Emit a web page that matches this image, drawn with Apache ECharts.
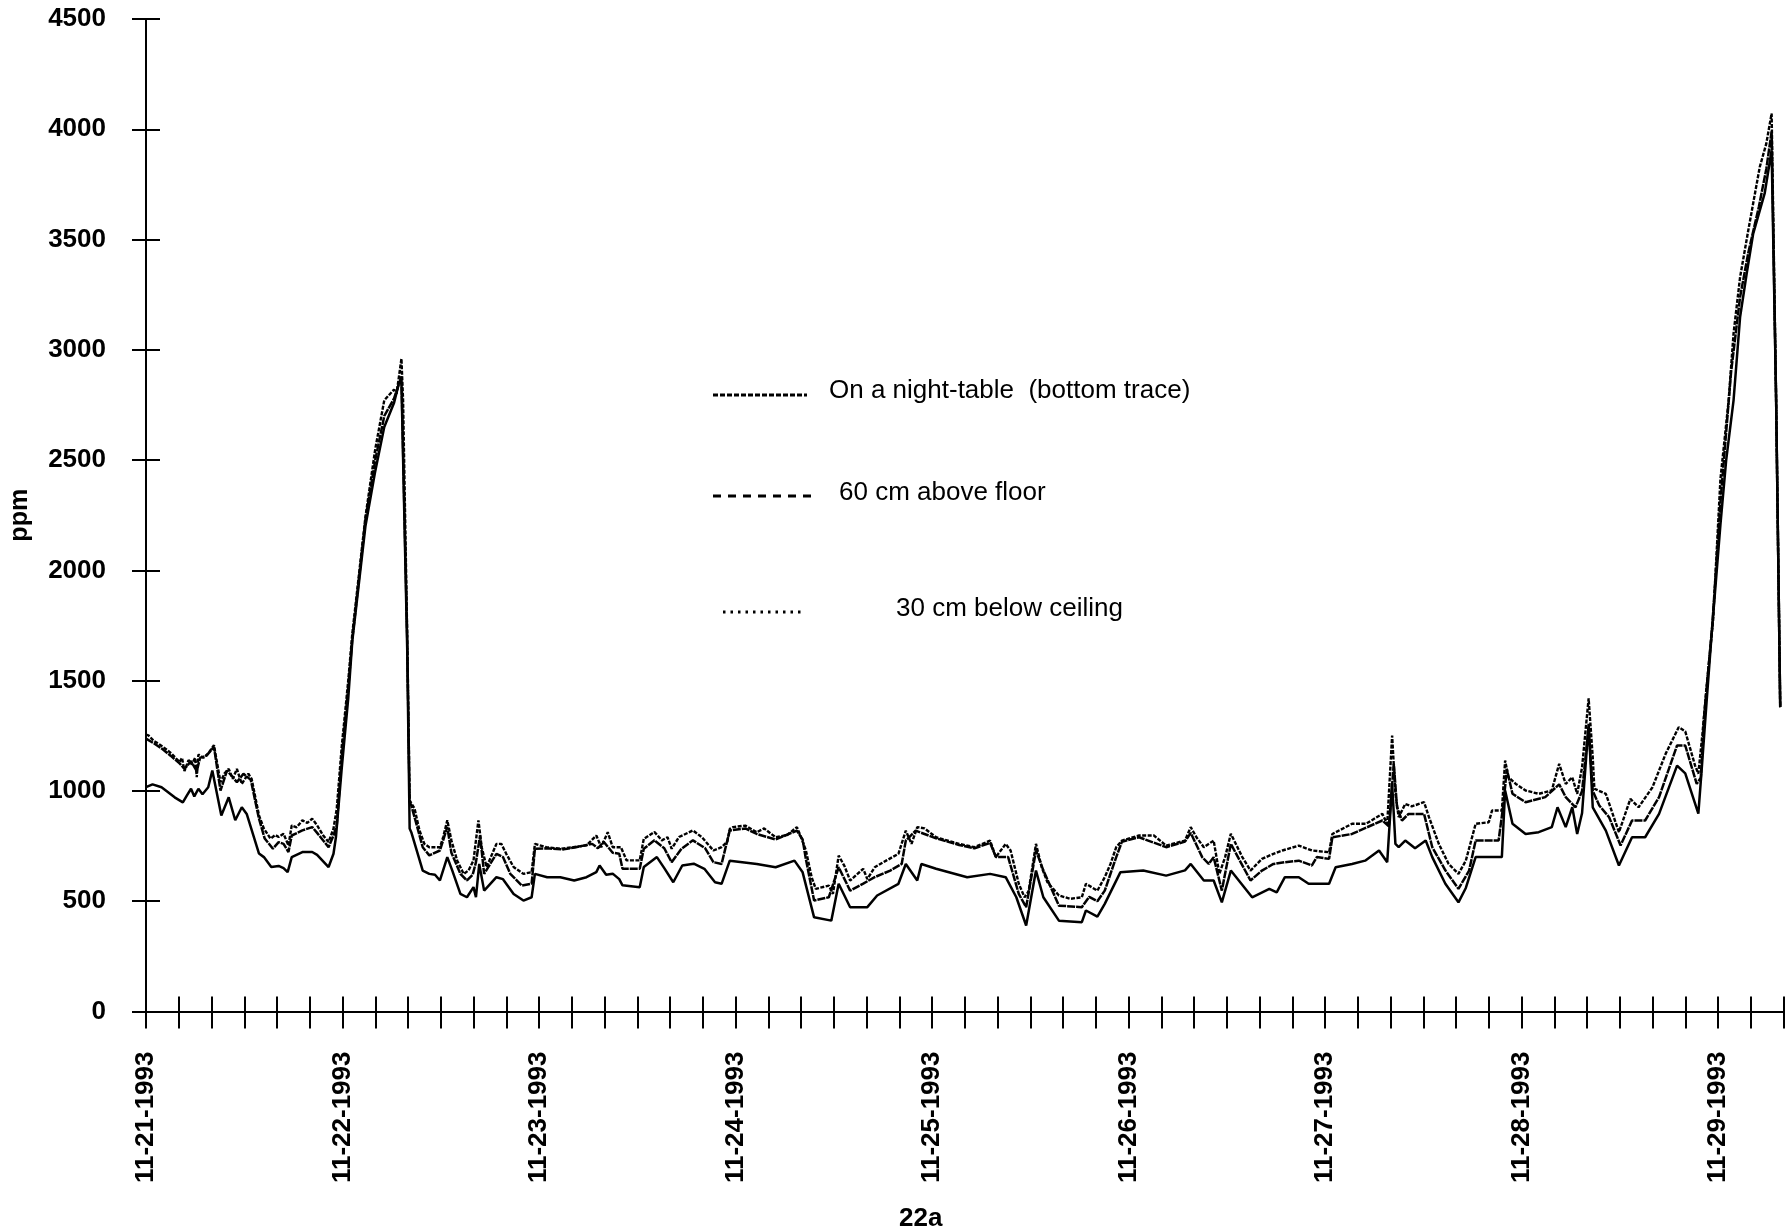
<!DOCTYPE html>
<html>
<head>
<meta charset="utf-8">
<script src="https://cdn.jsdelivr.net/npm/echarts@6/dist/echarts.min.js"></script>
<style>
html,body{margin:0;padding:0;background:#fff;}
#chart{width:1787px;height:1231px;}
</style>
</head>
<body>
<div id="chart"></div>
<script>
// Tick labels: one per day, placed at hour 0 of each day
const dateLabels = ['11-21-1993','11-22-1993','11-23-1993','11-24-1993','11-25-1993','11-26-1993','11-27-1993','11-28-1993','11-29-1993'];

// Each point: [hours since 11-21-1993 00:00, CO2 ppm]
// On a night-table (bottom trace)
const tableSeries = [[0,1017],[0.8,1030],[1.9,1017],[2.5,1000],[3.5,971],[4.5,948],[5.0,980],[5.5,1010],[5.9,975],[6.4,1010],[6.9,985],[7.6,1017],[8.1,1093],[9.2,889],[10.1,971],[10.9,867],[11.7,926],[12.3,896],[13.8,716],[14.4,700],[15.3,655],[16.2,660],[16.8,650],[17.3,632],[17.8,700],[19.1,723],[20.3,723],[20.9,710],[22.3,655],[22.9,715],[23.2,791],[23.9,1100],[24.7,1420],[25.2,1680],[26.8,2200],[28,2450],[29.1,2650],[30.3,2760],[30.9,2850],[31.2,2850],[31.9,1650],[32.2,830],[32.4,813],[33.8,639],[34.6,624],[35.3,620],[35.9,594],[36.8,700],[37.4,640],[38.4,533],[39.2,518],[40.0,564],[40.3,518],[40.7,669],[41.3,548],[42.8,609],[43.6,600],[44.9,533],[46.1,503],[47.1,518],[47.5,624],[49.0,609],[50.6,609],[52.3,594],[53.8,609],[55.0,632],[55.4,662],[56.2,620],[57.0,625],[57.8,600],[58.2,572],[60.3,563],[60.8,655],[62.4,700],[63.3,650],[64.4,586],[65.5,662],[66.9,670],[68.2,647],[69.5,586],[70.3,579],[71.3,684],[74.6,669],[76.9,654],[79.2,684],[80.2,631],[81.6,427],[83.7,412],[84.6,579],[86.0,473],[88.1,473],[89.3,526],[91.9,579],[92.8,669],[94.2,594],[94.7,669],[96.5,647],[100.3,609],[103.1,624],[105,609],[106.3,518],[107.5,390],[108.7,639],[109.6,518],[111.5,412],[114.3,405],[114.8,458],[116.2,430],[117.1,488],[119.0,631],[121.8,639],[124.6,616],[126.9,640],[127.6,669],[129.2,594],[130.4,594],[131.4,495],[132.5,639],[135.1,518],[137.2,556],[138.1,540],[139.1,609],[140.8,609],[142.0,579],[144.5,579],[145.3,654],[147.3,669],[148.9,684],[150.6,730],[151.6,677],[152.2,1032],[152.6,760],[153.0,745],[153.8,775],[155.0,740],[156.3,775],[157.1,700],[158.7,579],[160.3,495],[161.2,560],[162.4,700],[165.6,700],[166.0,1002],[166.9,851],[168.5,805],[170.1,813],[171.7,836],[172.4,926],[173.4,836],[174.2,926],[174.8,805],[175.4,900],[176.2,1304],[176.7,926],[178.3,820],[179.9,662],[181.5,790],[183.1,790],[184.8,896],[187.0,1115],[188.0,1080],[189.6,897],[190.0,1093],[190.6,1400],[191.2,1700],[192.3,2208],[193.0,2500],[193.9,2771],[194.7,3149],[195.5,3345],[196.3,3527],[197.7,3709],[198.55,3905],[199.1,2770],[199.6,1380]];

// 60 cm above floor (middle trace)
const floorSeries = [[0,1237],[1,1215],[2,1190],[3,1160],[4.1,1125],[4.7,1100],[5.5,1135],[6.2,1090],[6.6,1150],[7.4,1160],[8.3,1200],[9.1,1002],[9.9,1093],[11.1,1040],[11.9,1078],[12.8,1050],[13.8,874],[14.5,784],[15.5,738],[16.2,768],[16.8,760],[17.4,723],[17.8,798],[19.1,821],[20.3,836],[20.9,810],[22.3,745],[22.9,798],[23.3,844],[23.9,1150],[24.7,1470],[25.2,1690],[26.8,2230],[28,2500],[29.1,2700],[30.3,2780],[31.2,2880],[31.9,1700],[32.2,950],[32.4,935],[33.8,745],[34.6,708],[35.9,730],[36.8,836],[37.3,720],[38.4,624],[39.2,594],[39.9,620],[40.3,677],[40.8,798],[41.3,624],[42.8,715],[43.6,700],[44.5,624],[45.9,571],[47.1,580],[47.5,738],[49,740],[51,735],[52.5,745],[54.5,760],[55.2,740],[55.9,770],[57,720],[57.8,715],[58.2,647],[60.3,647],[60.8,738],[62.1,776],[63.3,740],[64.2,677],[65.4,738],[66.8,776],[68.3,740],[69.3,677],[70.3,669],[71.3,821],[73.2,830],[74.6,805],[76.9,780],[79.5,820],[80.2,780],[80.6,690],[81.6,503],[83.4,518],[84.6,654],[86.0,548],[87.6,580],[89.0,609],[90.9,639],[92.3,669],[92.8,775],[94.0,820],[96.5,785],[99.3,755],[101.2,740],[103.1,765],[103.8,700],[105.3,700],[106.6,533],[107.5,473],[108.7,730],[109.6,640],[111.5,480],[114.3,473],[115.2,520],[116.2,500],[117.1,548],[118.5,700],[119.2,770],[121.3,790],[124.6,745],[126.9,770],[127.6,810],[129.0,700],[129.8,669],[130.4,700],[131.4,548],[132.5,760],[134.9,594],[136.3,639],[137.7,669],[139.1,677],[140.8,684],[142.4,662],[143.0,700],[144.5,692],[144.9,790],[147.3,805],[151.0,866],[151.8,840],[152.4,1123],[152.8,926],[153.4,866],[154.2,896],[156.1,896],[157.1,745],[158.7,640],[160.3,556],[161.6,639],[162.4,775],[165.2,775],[165.8,941],[166.2,1100],[166.9,987],[168.5,949],[170.9,972],[172.6,1030],[173.4,972],[174.6,926],[175.4,1000],[176.2,1289],[176.7,1000],[177.5,934],[178.7,881],[180.1,753],[181.5,866],[183.1,866],[184.8,972],[187.0,1206],[188.0,1206],[189.4,1032],[189.9,1060],[190.3,1335],[191.3,1750],[192.3,2310],[193.6,2900],[194.7,3240],[195.7,3440],[197.0,3650],[197.9,3820],[198.55,3990],[199.1,2770],[199.6,1380]];

// 30 cm below ceiling (top trace)
const ceilingSeries = [[0,1255],[0.3,1252],[1.0,1225],[1.5,1215],[2.1,1199],[2.6,1185],[3.1,1170],[3.6,1150],[4.1,1131],[4.4,1150],[4.7,1090],[5.2,1140],[5.6,1120],[6.0,1150],[6.2,1062],[6.4,1165],[7.0,1150],[7.6,1170],[8.3,1207],[9.1,1040],[9.6,1080],[10.1,1100],[10.6,1055],[11.1,1100],[11.7,1032],[12.5,1078],[12.9,1055],[13.8,889],[14.4,829],[15.2,784],[15.8,800],[16.2,791],[16.8,806],[17.4,753],[17.8,844],[18.4,835],[19.1,867],[19.7,855],[20.3,874],[20.9,844],[21.6,800],[22.3,768],[22.9,829],[23.3,920],[23.9,1199],[24.7,1500],[25.2,1714],[26.8,2242],[28,2550],[29.1,2771],[29.8,2800],[30.3,2820],[30.6,2800],[31.2,2960],[31.4,2770],[31.9,1714],[32.2,957],[32.8,920],[33.4,821],[34.0,760],[34.6,745],[35.9,745],[36.3,791],[36.8,867],[37.3,776],[38.0,685],[38.8,624],[39.4,640],[40.0,685],[40.6,867],[41.0,745],[41.6,655],[42.8,760],[43.4,760],[44.0,715],[44.9,655],[46.1,624],[47.1,632],[47.5,760],[48.9,745],[50.6,738],[52.2,745],[53.8,753],[55.0,798],[55.6,745],[56.4,813],[57.0,745],[58.0,745],[58.7,685],[60.3,685],[60.8,783],[62.1,814],[63.0,776],[63.7,790],[64.2,738],[65.1,791],[66.8,821],[67.9,790],[69.3,730],[70.3,745],[71.0,770],[71.3,828],[71.7,836],[73.2,843],[74.6,813],[75.5,830],[76.9,790],[78.3,800],[79.5,836],[79.9,800],[80.6,730],[81.3,609],[81.8,556],[83.4,571],[83.9,533],[84.6,707],[85.3,660],[86.0,594],[87.6,647],[88.1,600],[89.0,654],[90.4,684],[91.9,715],[92.8,820],[93.5,760],[94.2,836],[95.1,830],[96.5,790],[99.3,760],[101.2,745],[103.1,775],[103.8,700],[105.0,760],[105.6,730],[106.6,579],[107.3,518],[107.8,545],[108.7,760],[109.4,654],[110.1,586],[111.5,526],[112.9,511],[114.3,518],[114.8,579],[116.2,548],[117.1,609],[117.8,669],[118.5,745],[119.2,775],[121.3,798],[123.1,798],[124.6,752],[126.9,775],[127.6,836],[128.3,790],[129.2,745],[130.4,775],[131.1,624],[131.8,700],[132.5,806],[133.9,700],[134.9,639],[136.3,692],[137.7,715],[138.8,730],[140.8,752],[142.4,730],[144.5,722],[144.9,805],[147.3,851],[149.0,851],[151.0,896],[151.6,851],[152.2,1251],[152.6,987],[153.0,881],[153.8,941],[154.6,930],[156.1,949],[156.7,881],[157.9,760],[159.1,669],[160.3,624],[161.2,684],[162.4,851],[164.0,858],[164.4,911],[165.6,911],[166.0,1138],[166.4,1062],[167.3,1032],[168.5,1002],[170.1,987],[171.7,1002],[172.6,1123],[173.4,1032],[174.2,1062],[174.8,987],[175.4,1108],[176.2,1420],[176.7,1153],[176.9,1010],[178.3,987],[179.9,813],[181.3,964],[182.3,926],[184.0,1017],[185.6,1168],[187.2,1289],[188.0,1270],[189.2,1115],[189.6,1078],[190.1,1259],[190.6,1471],[191.4,1773],[192.3,2415],[193.3,2771],[193.9,3075],[194.7,3330],[195.7,3542],[197.1,3829],[197.9,3935],[198.55,4072],[199.1,2770],[199.6,1380]];

const yTicks = {min: 0, max: 4500, step: 500};
const xRange = {min: 0, max: 200, step: 4};

const chart = echarts.init(document.getElementById('chart'), null, {renderer:'canvas'});
const font = '"Liberation Sans", Arial, sans-serif';
const lineCol = '#000';

chart.setOption({
  animation:false,
  backgroundColor:'#fff',
  title:{
    text:'22a', left:894, top:1201,
    textStyle:{fontFamily:font, fontSize:26, fontWeight:'bold', color:'#000'}
  },
  grid:{left:146, top:19, right:3.5, bottom:219.5, containLabel:false},
  xAxis:[{
    type:'value', min:xRange.min, max:xRange.max, interval:xRange.step,
    axisLine:{show:true, lineStyle:{color:lineCol, width:2}},
    axisTick:{show:true, inside:false, length:17, lineStyle:{color:lineCol, width:2}},
    splitLine:{show:false},
    axisLabel:{
      show:true, rotate:90, margin:40, interval:0,
      fontFamily:font, fontSize:26, fontWeight:'bold', color:'#000',
      formatter:function(v){ return (v % 24 === 0) ? (dateLabels[v/24] || '') : ''; }
    }
  },{
    type:'value', min:xRange.min, max:xRange.max, interval:xRange.step, position:'bottom',
    axisLine:{show:false},
    axisTick:{show:true, inside:true, length:15, lineStyle:{color:lineCol, width:2}},
    splitLine:{show:false}, axisLabel:{show:false}
  }],
  yAxis:[{
    type:'value', min:yTicks.min, max:yTicks.max, interval:yTicks.step,
    name:'ppm', nameLocation:'middle', nameGap:113,
    nameTextStyle:{fontFamily:font, fontSize:25, fontWeight:'bold', color:'#000'},
    axisLine:{show:true, lineStyle:{color:lineCol, width:2}},
    axisTick:{show:true, inside:false, length:14, lineStyle:{color:lineCol, width:2}},
    splitLine:{show:false},
    axisLabel:{margin:40, fontFamily:font, fontSize:26, fontWeight:'bold', color:'#000',
      formatter:function(v){ return String(v); }}
  },{
    type:'value', min:yTicks.min, max:yTicks.max, interval:yTicks.step, position:'left',
    axisLine:{show:false},
    axisTick:{show:true, inside:true, length:14, lineStyle:{color:lineCol, width:2}},
    splitLine:{show:false}, axisLabel:{show:false}
  }],
  series:[{
    name:'On a night-table  (bottom trace)', type:'line', xAxisIndex:0, yAxisIndex:0,
    data:tableSeries, showSymbol:false, symbol:'none',
    lineStyle:{color:'#000', width:2.5, type:'solid'}
  },{
    name:'60 cm above floor', type:'line', xAxisIndex:0, yAxisIndex:0,
    data:floorSeries, showSymbol:false, symbol:'none',
    lineStyle:{color:'#000', width:2.5, type:[8,1]}
  },{
    name:'30 cm below ceiling', type:'line', xAxisIndex:0, yAxisIndex:0,
    data:ceilingSeries, showSymbol:false, symbol:'none',
    lineStyle:{color:'#000', width:2.4, type:[4,1.5]}
  }],
  graphic:[
    {type:'line', shape:{x1:713, y1:395, x2:807, y2:395}, style:{stroke:'#000', lineWidth:3, lineDash:[5,2]}},
    {type:'text', left:829, top:378, style:{text:'On a night-table  (bottom trace)', font:'26px "Liberation Sans", Arial, sans-serif', fill:'#000'}},
    {type:'line', shape:{x1:713, y1:496, x2:818, y2:496}, style:{stroke:'#000', lineWidth:3, lineDash:[8,7]}},
    {type:'text', left:839, top:480, style:{text:'60 cm above floor', font:'26px "Liberation Sans", Arial, sans-serif', fill:'#000'}},
    {type:'line', shape:{x1:723, y1:612, x2:805, y2:612}, style:{stroke:'#000', lineWidth:3, lineDash:[2.5,5]}},
    {type:'text', left:896, top:596, style:{text:'30 cm below ceiling', font:'26px "Liberation Sans", Arial, sans-serif', fill:'#000'}}
  ]
});
</script>
</body>
</html>
